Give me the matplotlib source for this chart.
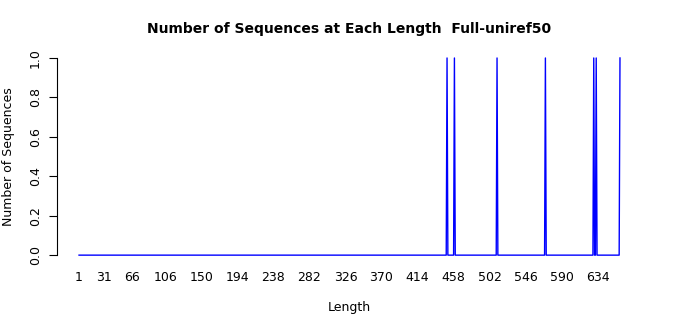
import matplotlib
matplotlib.use('Agg')
import matplotlib.pyplot as plt
import numpy as np

# lengths observed (1..661), counts are zero except at these lengths
min_length = 1
max_length = 661
spike_lengths = [450, 459, 511, 570, 629, 632, 661]
spike_counts = [1, 1, 1, 1, 1, 1, 1]
tick_labels = [1, 31, 66, 106, 150, 194, 238, 282, 326, 370, 414, 458, 502, 546, 590, 634]

lengths = np.arange(min_length, max_length + 1)
counts = np.zeros(len(lengths))
for L, c in zip(spike_lengths, spike_counts):
    counts[L - min_length] = c

fig = plt.figure(figsize=(7, 3.15), dpi=100)
ax = fig.add_axes([0.082, 0.165, 0.8346, 0.676])

ax.plot(lengths, counts, color='#0000ff', linewidth=1.0)

span = max_length - min_length
ax.set_xlim(min_length - 0.04 * span, max_length + 0.04 * span)
ax.set_ylim(-0.04, 1.04)

for s in ['top', 'right', 'bottom']:
    ax.spines[s].set_visible(False)
ax.spines['left'].set_bounds(0, 1)
ax.spines['left'].set_linewidth(0.8)

ax.set_yticks(np.arange(0, 1.01, 0.2))
ax.set_yticklabels(['%.1f' % v for v in np.arange(0, 1.01, 0.2)], rotation=90, va='center')
ax.tick_params(axis='y', length=6, width=0.8, pad=5, labelsize=9)

ax.set_xticks(tick_labels)
ax.set_xticklabels([str(t) for t in tick_labels])
ax.tick_params(axis='x', length=0, pad=6, labelsize=9)

ax.set_xlabel('Length', fontsize=9, labelpad=12)
ax.set_ylabel('Number of Sequences', fontsize=9, labelpad=10)
ax.set_title('Number of Sequences at Each Length  Full-uniref50', fontsize=10,
             fontweight='bold', pad=12)

fig.savefig('out.png', dpi=100)
